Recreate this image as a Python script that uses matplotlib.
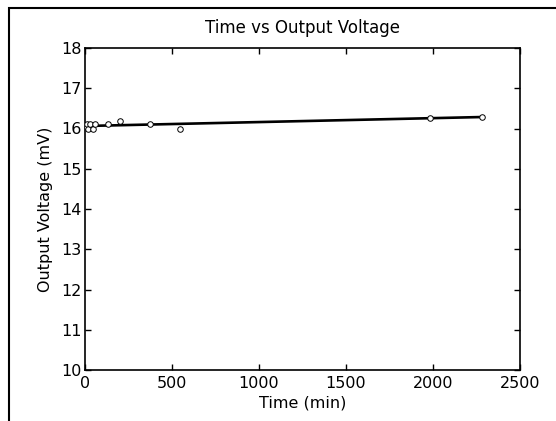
import numpy as np
import matplotlib

matplotlib.use("Agg")

import matplotlib.pyplot as plt  # noqa: E402
from matplotlib.patches import Rectangle  # noqa: E402

# measured points (min, mV)
time_min = [0, 10, 20, 30, 45, 60, 130, 200, 375, 548, 1985, 2283]
voltage_mv = [16.05, 16.1, 16.0, 16.1, 16.0, 16.1, 16.1, 16.19, 16.1, 16.0, 16.27, 16.29]

x_ticks = [0, 500, 1000, 1500, 2000, 2500]
y_ticks = [10, 11, 12, 13, 14, 15, 16, 17, 18]

plt.rcParams["font.family"] = ["DejaVu Sans"]

fig = plt.figure(figsize=(5.56, 4.21), dpi=100)
fig.patch.set_facecolor("white")
ax = fig.add_axes([85 / 556, 1 - 370 / 421, (520 - 85) / 556, (370 - 48) / 421])

# linear fit drawn through the data range
t = np.array(time_min, dtype=float)
v = np.array(voltage_mv, dtype=float)
slope, intercept = np.polyfit(t, v, 1)
ax.plot(t, slope * t + intercept, color="black", linewidth=1.9, zorder=2)

ax.plot(time_min, voltage_mv, linestyle="none", marker="o", markersize=4,
        markerfacecolor="white", markeredgecolor="black", markeredgewidth=0.7,
        zorder=3)

ax.set_xlim(0, 2500)
ax.set_ylim(10, 18)
ax.set_xticks(x_ticks)
ax.set_yticks(y_ticks)
ax.tick_params(direction="in", length=4, width=1, top=True, right=True,
               labelsize=11.5, colors="black")
ax.tick_params(axis="x", pad=4.5)
ax.tick_params(axis="y", pad=2.5)
for spine in ax.spines.values():
    spine.set_linewidth(1.2)
    spine.set_color("black")

ax.set_title("Time vs Output Voltage", fontsize=12, pad=10.5)
ax.set_xlabel("Time (min)", fontsize=11.5, labelpad=3)
ax.set_ylabel("Output Voltage (mV)", fontsize=11.5, labelpad=6)

# outer window frame (cropped screenshot look)
fig.patches.append(Rectangle((9 / 556, -0.1), 1.2, 1 - 8 / 421 + 0.1,
                             transform=fig.transFigure, fill=False,
                             edgecolor="black", linewidth=1.5))

fig.savefig("out.png", dpi=100, facecolor="white")
plt.close(fig)
